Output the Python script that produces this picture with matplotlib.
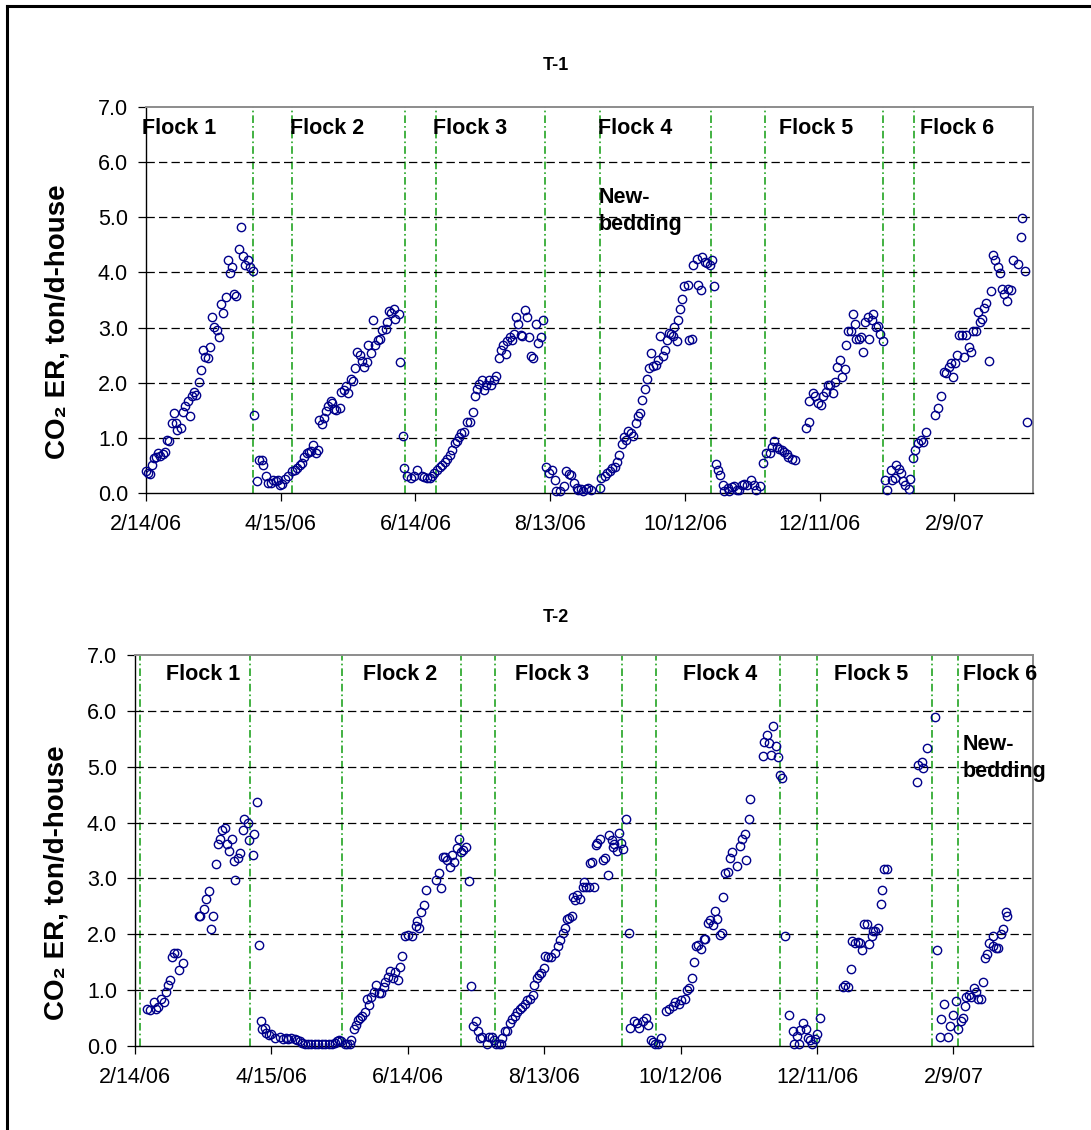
import numpy as np
import matplotlib
matplotlib.use("Agg")
import matplotlib.pyplot as plt
import matplotlib.dates as mdates
from matplotlib.lines import Line2D
from matplotlib.ticker import FixedLocator, FuncFormatter

plt.rcParams['font.family'] = ['Liberation Sans', 'DejaVu Sans']
plt.rcParams['lines.scale_dashes'] = False

START = '2006-02-14'
X_END_DAYS = 395
TICK_DAYS = [0, 60, 120, 180, 240, 300, 360]
Y_TICKS = [0, 1, 2, 3, 4, 5, 6, 7]

# ---------------- T-1 data (days after 2/14/06, CO2 ER ton/d-house) -------------
t1_days = [0, 0.7, 2, 2.5, 3.7, 4.4, 5.5, 6.4, 7.4, 8.4, 9.3, 10.4, 11.4, 12.3, 13.3, 14, 15.6, 16.3,
           17.5, 18.5, 19.7, 20.3, 21.5, 22.2, 23.7, 24.4, 25.6, 26.4, 27.4, 28.4, 29.6, 30.5, 31.6,
           32.3, 33.6, 34.4, 35.6, 36.3, 37.6, 38.5, 39.3, 40.3, 41.5, 42.2, 43.3, 44, 45.6, 46.4,
           47.7, 48, 49.6, 50.4, 51.6, 52.3, 53.6, 54.4, 55.6, 56.7, 57.8, 58.8, 59.7, 60.7, 61.8, 63.4,
           65.2, 66.2, 67.4, 68.6, 69.6, 70.4, 71.6, 72.6, 73.6, 74.5, 75.6, 76.6, 77, 78.2, 79.3, 80.3,
           81, 82.2, 83, 83.7, 84.7, 86.4, 87, 88.1, 88.9, 90, 91.1, 92.3, 92.9, 94.1, 95.1, 96.3, 97,
           98.2, 99, 100.4, 101.2, 102.2, 103.3, 104.4, 105.2, 106.7, 107.4, 108.1, 109.2, 110.4, 111.1,
           112.6, 113, 114.4, 115.1, 116.3, 117.8, 119.3, 120.7,
           123, 124, 125.2, 126.4, 127.4, 128.2, 129.7, 130.8, 131.9, 133.1, 134.1, 135.2, 136.4, 137.5,
           138.3, 139.3, 140.4, 141.8, 143, 144.2, 145.7, 146.7, 147.5, 148.5, 149.7, 150.5, 151.5,
           152.7, 153.7, 154.9, 156, 157.2, 158, 159.1, 160.1, 160.9, 162, 162.8, 163.8, 164.9, 165.6,
           166.8, 167.5, 168.6, 169.8, 170.5, 171.6, 172.5, 173.8, 174.7, 175.7, 176.9,
           178, 179.4, 180.9, 182, 182.7, 184.3, 186.1, 186.9, 188.4, 189.1, 190.6, 191.8, 192.5, 193.6,
           194.7, 195.8, 196.8, 198,
           202.2, 202.5, 204.2, 205.4, 206.5, 207.7, 208.9, 209.6, 210.6, 211.8, 212.9, 213.9, 214.8,
           215.8, 217, 218.1, 219.1, 220, 221, 222.2, 223, 224, 224.8, 225.9, 227, 228.2, 228.9, 230.3,
           231.2, 232.2, 233, 234, 234.9, 235.2, 236.4, 237.1, 237.9, 238.9, 239.7, 241.2, 241.9, 243.1,
           243.8, 245.2, 245.9, 247, 247.5, 248.8, 250, 251.2, 251.9, 253,
           253.8, 254.8, 255.8, 256.8, 257.5, 259, 259.7, 260.9, 261.9, 263.1, 264.2, 265.2, 266.4,
           267.8, 269.3, 270.8, 271.8, 273.5, 274.9,
           276, 277.9, 278.9, 279.6, 280.8, 281.9, 283.1, 284.1, 285.3, 286, 287.5, 289, 293.7, 295.1,
           295.4, 297, 298.1, 299.1, 300.7, 301.5, 302.8, 303.7, 304.7, 305.8, 306.9, 307.7, 309.1,
           309.9, 311.1, 311.7, 312.8, 313.9, 315, 315.8, 316.2, 317.3, 318.3, 319.5, 320.2, 321.4,
           322.1, 323.5, 323.9, 325, 325.8, 326.8, 328,
           329.3, 330.2, 331.7, 332.4, 333.5, 334.2, 335.4, 336.1, 337.2, 337.9, 339.7, 340.1, 341.6,
           342.3, 343.8, 345, 346, 347.5, 351.5, 352.7, 354.1, 355.3, 356.3, 357.5, 358.6, 359.3, 360.3,
           361.2, 362.2, 363.3, 364.2, 365.2, 366.4, 367.4, 368.5, 369.6, 370.4, 371.4, 372.3, 373.3,
           374, 375.5, 376.3, 377.3, 378, 379.2, 380.2, 381.1, 382.1, 383.3, 383.9, 385.4, 386.2, 388.1,
           389.5, 390, 391.5, 392.3]
t1_vals = [0.39, 0.36, 0.34, 0.51, 0.63, 0.66, 0.72, 0.67, 0.70, 0.75, 0.96, 0.95, 1.27, 1.45, 1.27, 1.14,
           1.17, 1.46, 1.57, 1.66, 1.39, 1.75, 1.84, 1.78, 2.02, 2.23, 2.59, 2.47, 2.44, 2.65, 3.19, 3.01,
           2.95, 2.83, 3.43, 3.27, 3.55, 4.22, 3.99, 4.10, 3.60, 3.58, 4.43, 4.82, 4.30, 4.13, 4.23, 4.10,
           4.02, 1.42, 0.22, 0.60, 0.60, 0.51, 0.30, 0.19, 0.19, 0.24, 0.21, 0.23, 0.14, 0.17, 0.25, 0.30,
           0.40, 0.42, 0.45, 0.51, 0.54, 0.66, 0.72, 0.75, 0.77, 0.87, 0.72, 0.78, 1.33, 1.25, 1.36, 1.49,
           1.58, 1.67, 1.63, 1.52, 1.51, 1.55, 1.84, 1.87, 1.94, 1.82, 2.06, 2.04, 2.26, 2.56, 2.50, 2.39,
           2.28, 2.38, 2.68, 2.53, 3.14, 2.68, 2.77, 2.80, 2.96, 2.98, 3.10, 3.30, 3.27, 3.34, 3.16,
           3.24, 2.38, 1.04, 0.46, 0.30, 0.28, 0.30, 0.42,
           0.31, 0.29, 0.27, 0.27, 0.30, 0.37, 0.42, 0.48, 0.51, 0.57, 0.61, 0.69, 0.78, 0.90,
           0.95, 1.02, 1.08, 1.10, 1.28, 1.28, 1.46, 1.76, 1.88, 1.98, 2.05, 1.87, 1.96,
           2.05, 1.95, 2.05, 2.12, 2.44, 2.60, 2.68, 2.52, 2.76, 2.83, 2.78, 2.89, 3.20, 3.07,
           2.87, 2.84, 3.31, 3.20, 2.83, 2.48, 2.45, 3.07, 2.72, 2.83, 3.13,
           0.47, 0.36, 0.42, 0.23, 0.03, 0.03, 0.12, 0.39, 0.35, 0.32, 0.18, 0.09, 0.06, 0.07,
           0.03, 0.07, 0.09, 0.06,
           0.09, 0.27, 0.30, 0.36, 0.40, 0.45, 0.47, 0.57, 0.69, 0.89, 1.01, 0.96, 1.13,
           1.08, 1.04, 1.27, 1.40, 1.45, 1.69, 1.88, 2.06, 2.26, 2.53, 2.30, 2.32, 2.42, 2.85, 2.48,
           2.60, 2.78, 2.90, 2.89, 2.84, 3.01, 2.76, 3.13, 3.34, 3.51, 3.75, 3.78, 2.78, 2.80,
           4.13, 4.25, 3.78, 3.69, 4.28, 4.19, 4.17, 4.14, 4.23, 3.75,
           0.53, 0.41, 0.32, 0.14, 0.04, 0.09, 0.03, 0.11, 0.12, 0.06, 0.06, 0.15, 0.17,
           0.15, 0.23, 0.15, 0.06, 0.13, 0.54,
           0.73, 0.73, 0.84, 0.95, 0.83, 0.80, 0.78, 0.75, 0.71, 0.66, 0.61, 0.60, 1.17, 1.28,
           1.66, 1.82, 1.76, 1.63, 1.60, 1.76, 1.84, 1.96, 1.96, 1.82, 2.02, 2.29, 2.42,
           2.11, 2.24, 2.68, 2.94, 2.94, 3.24, 3.07, 2.80, 2.80, 2.83, 2.56, 3.10, 3.20,
           2.80, 3.13, 3.24, 3.01, 3.02, 2.89, 2.76,
           0.24, 0.06, 0.42, 0.24, 0.27, 0.51, 0.44, 0.36, 0.21, 0.15, 0.08, 0.25, 0.64,
           0.78, 0.90, 0.96, 0.93, 1.11, 1.42, 1.54, 1.75, 2.20, 2.17, 2.29, 2.35, 2.10, 2.36,
           2.50, 2.87, 2.86, 2.47, 2.87, 2.65, 2.56, 2.94, 2.94, 3.28, 3.10, 3.16, 3.36,
           3.45, 2.39, 3.67, 4.32, 4.22, 4.10, 3.99, 3.70, 3.60, 3.48, 3.70, 3.69, 4.22, 4.16,
           4.65, 4.98, 4.02, 1.28]

t1_boundaries = [47.7, 64.9, 115.3, 129.2, 177.5, 202.2, 251.7, 275.7, 328.3, 342.2]

# ---------------- T-2 data -------------
t2_days = [5.1, 6.6, 8.3, 9.2, 10.2, 11.3, 12.7, 13.6, 14.6, 15.4, 16.4, 17.1, 18.6, 19.3, 21.2, 28.1, 28.8,
           30.5, 31.2, 32.5, 33.4, 34.4, 35.6, 36.3, 37.6, 38.1, 39.5, 40.3, 41.4, 42.5, 43.5, 44.2, 45.4,
           46.4, 47.3, 48, 49.5, 50.2, 51.7, 52.3, 53.7, 54.5, 55.3, 55.9, 57.2, 57.8, 59, 60, 61.5, 63.7,
           65.2, 66.2, 67.3, 68.8, 70.3, 71.3, 72.5, 73.5, 74.7, 76.1, 77.6, 79.1, 80.5, 82.3, 83.7, 85.4,
           86.8, 87.8, 88.9, 89.8, 90.8, 92.2, 93.4, 94.4, 95.2, 96.2, 97.1, 98.1, 98.8, 100, 101, 102,
           102.9, 103.9, 105, 106.1, 107.3, 108.3, 109.4, 110.1, 111.3, 112.3, 113.5, 114.2, 115.7, 116.7,
           117.4, 118.6, 120.1,
           121.9, 123.4, 124.1, 124.9, 125.9, 127.1, 128.2, 132.2, 133.9, 134.4, 135.4, 136.3, 137.4,
           138.5, 139.6, 140.3, 141.5, 142.5, 143.2, 144.4, 145.7, 146.9, 147.6, 148.8, 149.9, 150.9,
           151.6, 152.8, 155, 155.7, 156.9, 157.9, 158.7, 159.9, 160.9, 161.6, 162.6, 163.8, 165, 166,
           167.1, 168.2, 169.3, 170.1, 171.5, 172.6, 173.7, 174.9, 175.6, 176.8, 177.8, 178.5, 180,
           180.3, 181.5, 182.9, 184.7, 185.9, 186.9, 188.1, 189.3, 190, 191, 192.1, 192.6, 193.5, 194.3,
           195.7, 196.9, 197.6, 198.4, 199.9, 200.1, 201, 201.8, 202.6, 203.4, 204.7, 205.7, 206.8,
           207.9, 208.7, 209.7, 210.1, 210.9, 212.1, 212.8, 213.8, 214.6, 216, 217.5, 217.9, 219.7,
           220.7, 221.9, 223.4, 224.6, 225.6, 226.8, 227.8, 228.8, 230, 231.5, 233.7, 235.1, 236.6,
           237.6, 239.3, 240.3, 241.8, 242.9, 243.5, 245, 245.7, 246.6, 247.6, 249.1, 250.1, 250.9,
           252.1, 252.8, 254.3, 255, 256.2, 257.2, 258.2, 258.7, 259.7, 260.9, 261.6, 262.4,
           264.7, 266.3, 266.9, 268.1, 268.8, 270, 270.7, 276.1, 276.8, 277.9, 278.7, 279.8, 280.5, 282,
           282.7, 283.5, 284.6, 285.9, 287.8, 289.3, 289.8, 291.2, 291.9, 292.7, 294, 295.2, 295.9,
           297.1, 297.8, 299.1, 300, 301.3, 311.3, 312.4, 313.5, 314.9, 315.4, 316.7, 317.9, 319, 319.8,
           320.8, 321.8, 323, 324, 324.7, 325.6, 326.9, 328.1, 328.8, 329.6, 330.7, 343.8, 344.5, 346,
           346.7, 348.2, 352, 352.6, 353.9, 354.5, 356, 357.7, 358.6, 359.9, 361.1, 361.8, 363.3, 364,
           365, 365.4, 366.9, 367.9, 369.1, 369.8, 370.6, 372, 373.2, 373.8, 374.9, 375.7, 377.2,
           377.6, 378.6, 379.6, 381.1, 381.8, 383, 383.7]
t2_vals = [0.66, 0.64, 0.78, 0.67, 0.70, 0.85, 0.78, 0.97, 1.09, 1.18, 1.60, 1.67, 1.66, 1.36, 1.48, 2.32, 2.33,
           2.46, 2.64, 2.77, 2.09, 2.32, 3.25, 3.61, 3.71, 3.87, 3.90, 3.61, 3.49, 3.71, 3.31, 2.98, 3.37,
           3.45, 3.87, 4.06, 3.99, 3.69, 3.42, 3.79, 4.36, 1.80, 0.45, 0.30, 0.32, 0.23, 0.20, 0.21, 0.14, 0.17,
           0.13, 0.15, 0.12, 0.15, 0.12, 0.11, 0.09, 0.05, 0.03, 0.03, 0.03, 0.03, 0.03, 0.03, 0.03, 0.03,
           0.03, 0.05, 0.09, 0.11, 0.09, 0.04, 0.03, 0.03, 0.11, 0.30, 0.38, 0.47, 0.50, 0.54, 0.61, 0.84,
           0.73, 0.88, 0.97, 1.09, 0.94, 0.94, 1.06, 1.15, 1.24, 1.35, 1.21, 1.33, 1.19, 1.42,
           1.61, 1.97, 1.99,
           1.97, 2.15, 2.23, 2.11, 2.40, 2.52, 2.80, 2.98, 3.10, 2.82, 3.39, 3.39, 3.33,
           3.21, 3.42, 3.30, 3.54, 3.70, 3.48, 3.51, 3.57, 2.96, 1.07, 0.35, 0.44, 0.27,
           0.14, 0.17, 0.03, 0.17, 0.17, 0.11, 0.03, 0.03, 0.03, 0.15, 0.26, 0.27, 0.41, 0.48,
           0.54, 0.61, 0.66, 0.70, 0.75, 0.82, 0.85, 0.91, 1.09, 1.21, 1.27, 1.31, 1.39,
           1.61, 1.60, 1.60, 1.67, 1.79, 1.90, 2.02, 2.12, 2.27, 2.29, 2.32, 2.67, 2.61, 2.70,
           2.64, 2.85, 2.94, 2.84, 2.85, 3.28, 3.30, 2.85, 3.60, 3.63, 3.70, 3.33, 3.36,
           3.06, 3.78, 3.69, 3.56, 3.62, 3.50, 3.82, 3.64, 3.52, 4.06, 2.02, 0.33, 0.44,
           0.42, 0.33, 0.44, 0.50, 0.38, 0.11, 0.08, 0.03, 0.03, 0.14, 0.63, 0.67, 0.72,
           0.79, 0.76, 0.82, 0.85, 1.00, 1.03, 1.21, 1.51, 1.79, 1.81, 1.73, 1.91, 1.91,
           2.21, 2.26, 2.17, 2.42, 2.27, 1.99, 2.02, 2.67, 3.09, 3.12, 3.36, 3.48,
           3.23, 3.58, 3.71, 3.79, 3.33, 4.06, 4.42, 5.19, 5.45, 5.57, 5.43, 5.21, 5.73, 5.37,
           5.18, 4.85, 4.79, 1.97, 0.55, 0.27, 0.03, 0.18, 0.03, 0.29, 0.41, 0.30, 0.14,
           0.11, 0.03, 0.12, 0.21, 0.51, 1.05, 1.09, 1.05, 1.37, 1.88, 1.85, 1.87, 1.85, 1.72,
           2.18, 2.18, 1.83, 1.97, 2.06, 2.06, 2.12, 2.55, 2.79, 3.17, 3.17, 4.73, 5.03, 5.09,
           4.98, 5.33, 5.89, 1.72, 0.17, 0.48, 0.75, 0.16, 0.35, 0.55, 0.81, 0.30, 0.45, 0.51,
           0.72, 0.88, 0.92, 0.88, 1.03, 0.97, 0.85, 0.85, 1.15, 1.57, 1.64, 1.84, 1.97,
           1.79, 1.75, 1.75, 2.00, 2.09, 2.40, 2.32]

t2_boundaries = [2.2, 50.5, 91.2, 143.2, 158.4, 214.1, 229.3, 283.9, 300.0, 350.7, 361.8]

flock_names = ['Flock 1', 'Flock 2', 'Flock 3', 'Flock 4', 'Flock 5', 'Flock 6']
bedding_text = 'New-\nbedding'

# ---------------- layout (figure pixels) -----------------
W, H = 1091, 1130
fig = plt.figure(figsize=(W / 100, H / 100), dpi=100)


def rect(l, t, r, b):
    return [l / W, 1 - b / H, (r - l) / W, (b - t) / H]


ax1 = fig.add_axes(rect(146, 107, 1033, 493))
ax2 = fig.add_axes(rect(135, 655, 1033, 1046))

base = mdates.date2num(np.datetime64(START))


def fmt_date(x, pos=None):
    d = mdates.num2date(x)
    return f"{d.month}/{d.day}/{d:%y}"


def style_axis(ax, days, vals, bounds, label_x, label_y, bed_xy):
    x = base + np.asarray(days, dtype=float)
    for b in bounds:
        ax.axvline(base + b, color='#109c10', lw=1.1,
                   linestyle=(0, (5.5, 2.2, 1.2, 2.2)), zorder=1)
    for yv in Y_TICKS[1:-1]:
        ax.axhline(yv, color='black', lw=0.9, linestyle=(0, (6.0, 3.0)), zorder=1)
    ax.plot(x, vals, linestyle='none', marker='o', ms=6.0, mfc='none',
            mec='#00008b', mew=1.0, zorder=3, clip_on=False)
    ax.set_xlim(base, base + X_END_DAYS)
    ax.set_ylim(0, 7)
    ax.xaxis.set_major_locator(FixedLocator([base + d for d in TICK_DAYS]))
    ax.xaxis.set_major_formatter(FuncFormatter(fmt_date))
    ax.yaxis.set_major_locator(FixedLocator(Y_TICKS))
    ax.yaxis.set_major_formatter(FuncFormatter(lambda v, p: f"{v:.1f}"))
    ax.tick_params(axis='both', direction='out', length=6, width=0.9, labelsize=15.5,
                   color='black', labelcolor='black')
    ax.tick_params(axis='y', pad=7)
    ax.tick_params(axis='x', pad=9)
    for s in ('left', 'bottom'):
        ax.spines[s].set_color('black')
        ax.spines[s].set_linewidth(1.0)
    for s in ('top', 'right'):
        ax.spines[s].set_color('#8c8c8c')
        ax.spines[s].set_linewidth(1.4)
    for name, lx in zip(flock_names, label_x):
        ax.text(lx, label_y, name, transform=ax.transAxes, fontsize=15.5,
                fontweight='bold', ha='left', va='center', zorder=4)
    ax.text(bed_xy[0], bed_xy[1], bedding_text, transform=ax.transAxes, fontsize=15.5,
            fontweight='bold', ha='left', va='center', linespacing=1.35, zorder=4)


style_axis(ax1, t1_days, t1_vals, t1_boundaries,
           [-0.004, 0.1624, 0.3233, 0.5101, 0.7131, 0.8721], 0.945, (0.5101, 0.730))
style_axis(ax2, t2_days, t2_vals, t2_boundaries,
           [0.0345, 0.2536, 0.4233, 0.6108, 0.7787, 0.9220], 0.949, (0.9220, 0.737))

# titles
fig.text(556 / W, 1 - 66 / H, 'T-1', fontsize=13, fontweight='bold', ha='center', va='center')
fig.text(556 / W, 1 - 617 / H, 'T-2', fontsize=13, fontweight='bold', ha='center', va='center')

# y labels
ylab = 'CO\u2082 ER, ton/d-house'
fig.text(58 / W, 1 - 322 / H, ylab, rotation=90, fontsize=20, fontweight='bold',
         ha='center', va='center')
fig.text(57 / W, 1 - 883 / H, ylab, rotation=90, fontsize=20, fontweight='bold',
         ha='center', va='center')

# outer frame (left and top edges visible)
fig.add_artist(Line2D([7 / W, 7 / W], [0, 1 - 6 / H], transform=fig.transFigure,
                      color='black', lw=2.2))
fig.add_artist(Line2D([7 / W, 1], [1 - 6 / H, 1 - 6 / H], transform=fig.transFigure,
                      color='black', lw=2.2))

fig.savefig('out.png', dpi=100)
